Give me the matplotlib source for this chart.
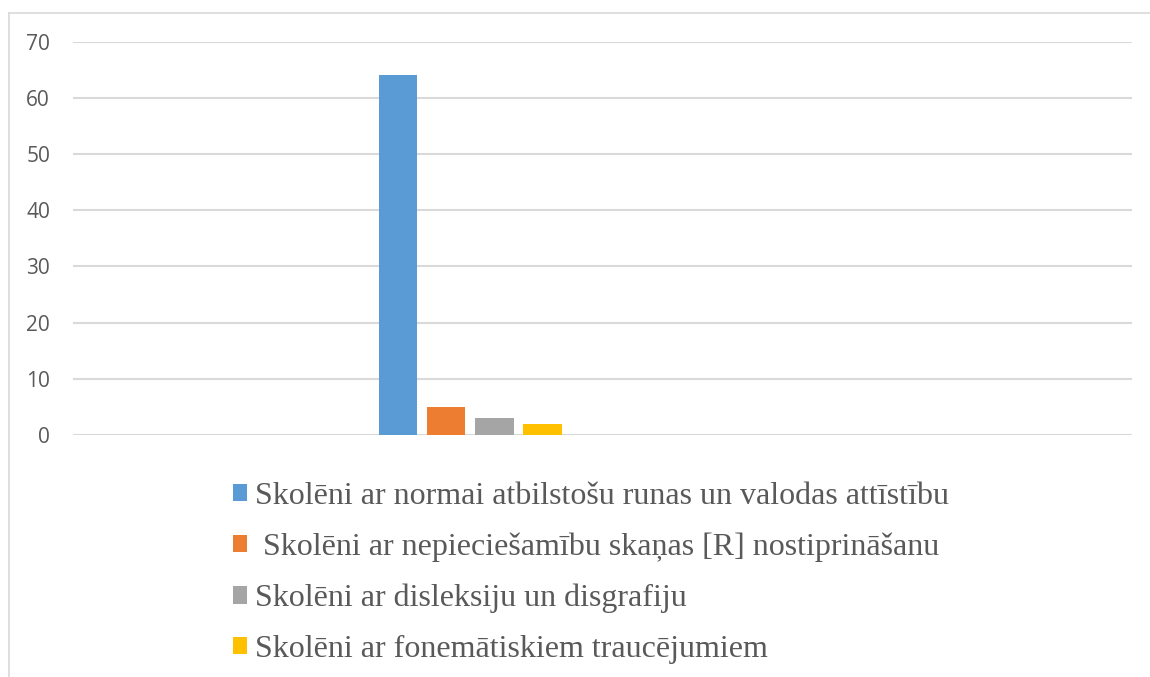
import numpy as np
import matplotlib
matplotlib.use('Agg')
import matplotlib.pyplot as plt
from matplotlib.lines import Line2D

# Data
series_labels = [
    "Skolēni ar normai atbilstošu runas un valodas attīstību",
    " Skolēni ar nepieciešamību skaņas [R] nostiprināšanu",
    "Skolēni ar disleksiju un disgrafiju",
    "Skolēni ar fonemātiskiem traucējumiem",
]
series_values = [64, 5, 3, 2]
series_colors = ['#5B9BD5', '#ED7D31', '#A5A5A5', '#FFC000']
y_ticks = [0, 10, 20, 30, 40, 50, 60, 70]

W, H = 1150, 677
fig = plt.figure(figsize=(W / 100, H / 100), dpi=100)

# outer chart frame (only top and left edges visible)
fig.add_artist(Line2D([9 / W, 9 / W], [0, 1 - 12.5 / H], transform=fig.transFigure,
                      color='#d9d9d9', lw=1.2))
fig.add_artist(Line2D([9 / W, 1], [1 - 12.5 / H, 1 - 12.5 / H], transform=fig.transFigure,
                      color='#d9d9d9', lw=1.2))

left, right = 73 / W, 1132 / W
bottom, top = 1 - 435 / H, 1 - 41.5 / H
ax = fig.add_axes([left, bottom, right - left, top - bottom])

positions = np.arange(len(series_values))
for i, (lab, val, col) in enumerate(zip(series_labels, series_values, series_colors)):
    ax.bar(positions[i], val, width=0.8, color=col, label=lab, zorder=3)

ax.set_xlim(-6.74, 15.23)
ax.set_ylim(0, 70)
ax.set_yticks(y_ticks)
ax.set_xticks([])
ax.grid(axis='y', color='#d9d9d9', lw=1.5, zorder=0)
ax.set_axisbelow(True)
for s in ax.spines.values():
    s.set_visible(False)
ax.tick_params(axis='y', length=0, pad=16.5, labelsize=15, labelcolor='#595959')
for t in ax.get_yticklabels():
    t.set_fontfamily('Open Sans')

leg = fig.legend(loc='upper left', bbox_to_anchor=(233 / W, 1 - 482 / H),
                 frameon=False, ncol=1,
                 handlelength=0.45, handleheight=0.45, handletextpad=0.25,
                 labelspacing=0.68, borderaxespad=0, borderpad=0,
                 prop={'family': 'Liberation Serif', 'size': 23})
for t in leg.get_texts():
    t.set_color('#595959')

fig.savefig('out.png', dpi=100)
